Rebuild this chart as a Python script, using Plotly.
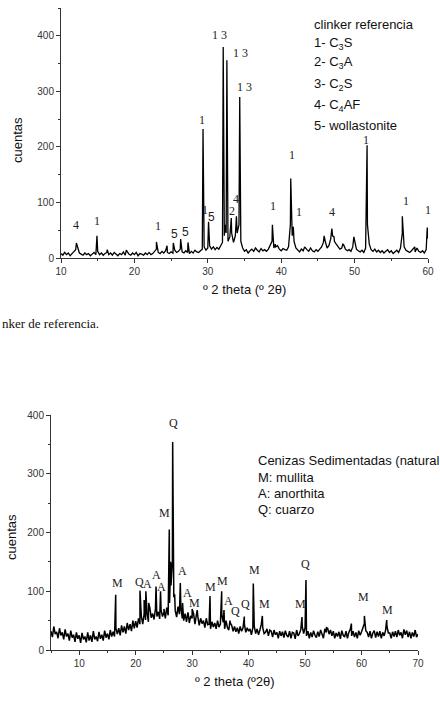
import plotly.graph_objects as go

# ---------------- TOP: clinker referencia ----------------
top_scan_start = 10.0
top_scan_step = 0.25
top_background = [
    8, 5, 10, 6,   9, 4, 8, 11,   15, 18, 9, 7,   5, 9, 6, 8,   4, 7, 10, 6,
    12, 6, 9, 5,   8, 10, 6, 9,   5, 10, 7, 4,   8, 6, 11, 5,   12, 7, 5, 9,
    6, 10, 4, 8,   7, 5, 9, 6,   10, 6, 8, 12,   16, 10, 8, 12,   9, 13, 10, 8,
    11, 9, 14, 10,   12, 16, 11, 9,   13, 10, 8, 12,   9, 14, 11, 10,   13, 16, 20, 14,
    18, 22, 16, 20,   15, 19, 16, 22,   28, 40, 45, 30,   38, 45, 28, 40,   45, 60, 30, 18,
    12, 15, 9, 13,   16, 12, 18, 14,   11, 17, 13, 15,   12, 16, 22, 30,   18, 20, 22, 16,
    13, 17, 15, 14,   20, 60, 40, 30,   18, 14, 11, 16,   13, 19, 15, 12,   17, 13, 11, 15,
    12, 16, 20, 28,   30, 18, 22, 35,   40, 30, 25, 20,   16, 18, 24, 16,   13, 15, 12, 20,
    30, 16, 13, 11,   14, 10, 18, 60,   25, 15, 12, 16,   11, 14, 10, 13,   9, 12, 15, 10,
    13, 8, 11, 14,   10, 18, 45, 20,   14, 12, 10, 13,   16, 11, 18, 12,   10, 13, 9, 15,
    35,
]
top_peak_pos = [12.1, 14.9, 16.3, 18.9, 23.0, 24.45, 25.3, 26.3, 27.3, 29.35, 30.1,
                32.1, 32.35, 32.6, 33.05, 33.2, 33.9, 34.35, 38.8, 39.2, 41.3, 41.65,
                43.2, 44.0, 45.85, 46.9, 47.2, 48.4, 49.9, 51.7, 56.5, 58.2, 59.9]
top_peak_counts = [27, 40, 15, 14, 29, 22, 27, 34, 28, 232, 65,
                   380, 60, 356, 50, 72, 75, 290, 60, 25, 143, 56,
                   20, 18, 40, 53, 38, 25, 38, 203, 75, 20, 55]

top_label_text = ["4", "1", "1", "5", "5", "1", "5", "1", "1 3", "1 3", "1 3", "2", "4",
                  "1", "1", "1", "4", "1", "1", "1"]
top_label_x = [12.05, 14.85, 23.15, 25.5, 27.0, 29.55, 30.55, 29.15, 31.65, 34.45, 34.95,
               33.25, 33.8, 38.95, 41.5, 42.4, 46.9, 51.55, 56.95, 60.0]
top_label_y = [60, 67, 58, 43, 47, 86, 74, 248, 402, 369, 307, 85, 107,
               94, 186, 83, 83, 212, 103, 86]

top_legend_lines = ["clinker referencia", "1- C<sub>3</sub>S", "2- C<sub>3</sub>A",
                    "3- C<sub>2</sub>S", "4- C<sub>4</sub>AF", "5- wollastonite"]
top_xticks = [10, 20, 30, 40, 50, 60]
top_yticks = [0, 100, 200, 300, 400]

# ---------------- BOTTOM: cenizas sedimentadas ----------------
bot_scan_start = 5.0
bot_scan_step = 0.25
bot_background = [
    32, 22, 40, 27,   31, 20, 37, 25,   30, 18, 35, 23,   28, 16, 33, 21,   26, 14, 30, 19,
    25, 12, 29, 18,   23, 13, 30, 16,   25, 14, 32, 18,   23, 15, 31, 19,   26, 16, 33, 21,
    28, 18, 34, 23,   31, 23, 37, 27,   37, 25, 42, 30,   40, 28, 46, 34,   44, 32, 50, 37,
    49, 38, 54, 44,   57, 44, 62, 51,   64, 48, 72, 55,   62, 52, 70, 57,   65, 53, 68, 57,
    64, 54, 72, 59,   80, 110, 150, 90,   67, 56, 74, 61,   72, 54, 50, 62,   48, 64, 46, 58,
    54, 62, 44, 60,   57, 42, 54, 45,   50, 38, 54, 43,   44, 36, 48, 39,   46, 36, 50, 39,
    44, 60, 47, 36,   50, 38, 34, 46,   42, 32, 40, 31,   38, 28, 40, 32,   37, 44, 30, 38,
    32, 36, 26, 38,   40, 28, 36, 26,   34, 44, 38, 28,   30, 36, 24, 34,   32, 22, 34, 26,
    30, 20, 32, 24,   31, 21, 33, 25,   22, 32, 20, 30,   29, 19, 34, 24,   28, 35, 40, 28,
    38, 24, 32, 20,   30, 22, 33, 25,   21, 31, 23, 34,   28, 20, 36, 30,   37, 27, 34, 24,
    32, 20, 29, 23,   31, 19, 33, 25,   22, 32, 20, 30,   35, 24, 32, 22,   30, 20, 33, 25,
    31, 38, 45, 33,   30, 22, 32, 20,   29, 33, 21, 31,   23, 32, 20, 30,   24, 33, 40, 29,
    29, 20, 31, 23,   32, 22, 34, 25,   30, 20, 35, 26,   33, 22, 31, 20,   30, 23, 34, 22,
    27,
]
bot_peak_pos = [16.46, 20.76, 21.5, 21.8, 22.3, 23.6, 24.4, 25.0, 25.95, 26.2, 26.55, 26.9,
                27.9, 28.3, 29.3, 30.0, 30.9, 33.16, 35.23, 35.64, 36.7, 39.24, 40.83,
                42.43, 49.45, 50.16, 53.8, 58.2, 60.5, 64.46]
bot_peak_counts = [94, 101, 85, 100, 80, 108, 100, 70, 205, 150, 354, 95,
                   114, 80, 62, 70, 68, 92, 100, 68, 50, 57, 113,
                   58, 56, 119, 38, 45, 58, 51]

bot_label_text = ["M", "Q", "A", "A", "A", "M", "Q", "A", "A", "M", "M", "M", "A", "Q",
                  "Q", "M", "M", "M", "Q", "M", "M"]
bot_label_x = [16.7, 20.6, 22.05, 23.65, 24.6, 25.07, 26.66, 28.26, 29.1, 30.45, 33.3, 35.4,
               36.35, 37.6, 39.5, 41.0, 42.73, 49.1, 50.0, 60.3, 64.6]
bot_label_y = [114, 115, 113, 128, 107, 233, 386, 134, 97, 80, 108, 117, 84, 67,
               78, 137, 78, 78, 146, 90, 68]

bot_legend_lines = ["Cenizas Sedimentadas (natural", "M: mullita", "A: anorthita", "Q: cuarzo"]
bot_xticks = [10, 20, 30, 40, 50, 60, 70]
bot_yticks = [0, 100, 200, 300, 400]


def merge(start, step, bg, ppos, pcnt):
    pts = [(start + step * i, v) for i, v in enumerate(bg)]
    pts += list(zip(ppos, pcnt))
    pts.sort(key=lambda p: p[0])
    return [p[0] for p in pts], [p[1] for p in pts]


tx, ty = merge(top_scan_start, top_scan_step, top_background, top_peak_pos, top_peak_counts)
bx, by = merge(bot_scan_start, bot_scan_step, bot_background, bot_peak_pos, bot_peak_counts)

W, H = 440, 708
SANS = "Liberation Sans, Arial, sans-serif"
SERIF = "Liberation Serif, Times New Roman, serif"
AX = "#333333"

fig = go.Figure()
fig.add_trace(go.Scatter(x=tx, y=ty, mode="lines", line=dict(color="black", width=1.3),
                         xaxis="x", yaxis="y", showlegend=False, hoverinfo="skip"))
fig.add_trace(go.Scatter(x=bx, y=by, mode="lines", line=dict(color="black", width=1.5),
                         xaxis="x2", yaxis="y2", showlegend=False, hoverinfo="skip"))


def px_x(p):
    return p / W


def px_y(p):
    return 1 - p / H


common = dict(showline=True, linecolor=AX, linewidth=1, ticks="outside", ticklen=4,
              tickcolor=AX, showgrid=False, zeroline=False, automargin=False,
              tickfont=dict(family=SANS, size=10, color=AX),
              minor=dict(ticks="outside", ticklen=2, tickcolor=AX))

fig.update_layout(
    template="none",
    width=W, height=H, margin=dict(l=0, r=0, t=0, b=0, autoexpand=False),
    paper_bgcolor="white", plot_bgcolor="white",
    xaxis=dict(domain=[px_x(61), px_x(428)], range=[10, 60], anchor="y",
               tickvals=top_xticks, minor_dtick=5, **common),
    yaxis=dict(domain=[px_y(258), px_y(8)], range=[0, 450], anchor="x",
               tickvals=top_yticks, minor_dtick=50, **common),
    xaxis2=dict(domain=[px_x(51), px_x(418)], range=[5, 70], anchor="y2",
                tickvals=bot_xticks, minor_dtick=5, **common),
    yaxis2=dict(domain=[px_y(650), px_y(415)], range=[0, 400], anchor="x2",
                tickvals=bot_yticks, minor_dtick=50, **common),
)

ann = []
for t, x, y in zip(top_label_text, top_label_x, top_label_y):
    fam = SANS if t == "5" else SERIF
    ann.append(dict(x=x, y=y, xref="x", yref="y", text=t, showarrow=False,
                    xanchor="center", yanchor="middle",
                    font=dict(family=fam, size=12, color="#222")))
for t, x, y in zip(bot_label_text, bot_label_x, bot_label_y):
    ann.append(dict(x=x, y=y, xref="x2", yref="y2", text=t, showarrow=False,
                    xanchor="center", yanchor="middle",
                    font=dict(family=SERIF, size=12, color="#222")))

# legends (text blocks)
top_leg_y = [24, 43, 63, 84, 105, 126]
for t, yy in zip(top_legend_lines, top_leg_y):
    ann.append(dict(x=px_x(312), y=px_y(yy), xref="paper", yref="paper", text=t,
                    showarrow=False, xanchor="left", yanchor="middle",
                    font=dict(family=SANS, size=13, color="#111")))
bot_leg_y = [460, 477, 493, 509]
for t, yy in zip(bot_legend_lines, bot_leg_y):
    ann.append(dict(x=px_x(256), y=px_y(yy), xref="paper", yref="paper", text=t,
                    showarrow=False, xanchor="left", yanchor="middle",
                    font=dict(family=SANS, size=13, color="#111")))

# axis titles and caption
titles = [
    ("º 2 theta (º 2θ)", 244, 290, 0, "center"),
    ("cuentas", 17, 140, -90, "center"),
    ("º 2 theta (º2θ)", 235, 681, 0, "center"),
    ("cuentas", 11, 537, -90, "center"),
    ("nker de referencia.", 0, 323, 0, "left"),
]
for t, xx, yy, ang, xa in titles:
    fam = SERIF if t.startswith("nker") else SANS
    ann.append(dict(x=px_x(xx), y=px_y(yy), xref="paper", yref="paper", text=t,
                    textangle=ang, xanchor=xa, yanchor="middle", showarrow=False,
                    font=dict(family=fam, size=13, color="#111")))
fig.update_layout(annotations=ann)

fig.write_html("out.html")
